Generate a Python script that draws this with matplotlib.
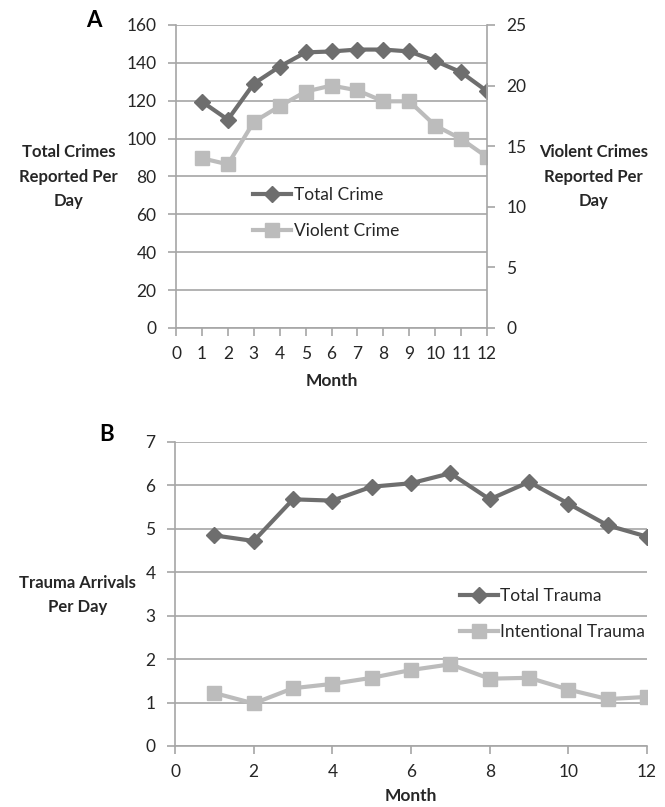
import matplotlib.pyplot as plt

# data
months = [1, 2, 3, 4, 5, 6, 7, 8, 9, 10, 11, 12]
total_crime = [119.5, 110, 129, 138, 145.5, 146, 147, 147, 146, 141, 135, 125]
violent_crime = [14.0, 13.5, 17.0, 18.3, 19.5, 20.0, 19.6, 18.7, 18.7, 16.7, 15.6, 14.1]
total_trauma = [4.85, 4.72, 5.68, 5.65, 5.97, 6.05, 6.28, 5.68, 6.08, 5.58, 5.08, 4.82]
intentional_trauma = [1.22, 0.98, 1.33, 1.43, 1.57, 1.75, 1.88, 1.55, 1.57, 1.30, 1.08, 1.13]

DARK = '#6e6e6e'
LIGHT = '#bcbcbc'
GRID = '#a6a6a6'
TXT = '#262626'

plt.rcParams['font.family'] = ['Lato', 'DejaVu Sans']
plt.rcParams['font.size'] = 12

fig = plt.figure(figsize=(6.65, 8.07), dpi=100)


def style_axes(ax):
    ax.grid(axis='y', color=GRID, linewidth=1.2)
    ax.set_axisbelow(True)
    for s in ['top', 'right']:
        ax.spines[s].set_visible(False)
    for s in ['left', 'bottom']:
        ax.spines[s].set_color(GRID)
        ax.spines[s].set_linewidth(1.2)
    ax.tick_params(color=GRID, labelcolor=TXT, length=6, width=1.2, labelsize=12.5)
    ax.tick_params(axis='y', pad=8)
    ax.tick_params(axis='x', pad=7)


# panel A
ax1 = fig.add_axes([0.2647, 0.5936, 0.4677, 0.3755])
style_axes(ax1)
ax1.plot(months, total_crime, color=DARK, lw=3, marker='D', ms=8.5, label='Total Crime')
ax1.set_xlim(0, 12)
ax1.set_ylim(0, 160)
ax1.set_xticks(range(0, 13))
ax1.set_yticks(range(0, 161, 20))
ax1.set_xlabel('Month', fontweight='bold', fontsize=12.5, color=TXT, labelpad=8)

ax2 = ax1.twinx()
ax2.plot(months, violent_crime, color=LIGHT, lw=3, marker='s', ms=9.5, label='Violent Crime')
ax2.set_ylim(0, 25)
ax2.set_yticks(range(0, 26, 5))
for s in ['top', 'left', 'bottom']:
    ax2.spines[s].set_visible(False)
ax2.spines['right'].set_color(GRID)
ax2.spines['right'].set_linewidth(1.2)
ax2.tick_params(color=GRID, labelcolor=TXT, length=6, width=1.2, labelsize=12.5, pad=8)

h1, l1 = ax1.get_legend_handles_labels()
h2, l2 = ax2.get_legend_handles_labels()
ax1.legend(h1 + h2, l1 + l2, loc='center left', bbox_to_anchor=(0.2476, 0.378),
           frameon=False, fontsize=12.5, handlelength=2.2, handletextpad=0.15,
           labelspacing=1.15, labelcolor=TXT, borderpad=0, borderaxespad=0)

fig.text(0.103, 0.781, 'Total Crimes\nReported Per\nDay', ha='center', va='center',
         fontweight='bold', fontsize=12, color=TXT, linespacing=1.65)
fig.text(0.893, 0.781, 'Violent Crimes\nReported Per\nDay', ha='center', va='center',
         fontweight='bold', fontsize=12, color=TXT, linespacing=1.65)
fig.text(0.141, 0.975, 'A', ha='center', va='center', fontweight='bold', fontsize=16, color='black')

# panel B
ax3 = fig.add_axes([0.2632, 0.0756, 0.7098, 0.3767])
style_axes(ax3)
ax3.plot(months, total_trauma, color=DARK, lw=3, marker='D', ms=8.5, label='Total Trauma')
ax3.plot(months, intentional_trauma, color=LIGHT, lw=3, marker='s', ms=9.5, label='Intentional Trauma')
ax3.set_xlim(0, 12)
ax3.set_ylim(0, 7)
ax3.set_xticks(range(0, 13, 2))
ax3.set_yticks(range(0, 8))
ax3.set_xlabel('Month', fontweight='bold', fontsize=12.5, color=TXT, labelpad=6)
ax3.legend(loc='center left', bbox_to_anchor=(0.603, 0.435), frameon=False, fontsize=12.5,
           handlelength=2.2, handletextpad=0.15, labelspacing=1.15, labelcolor=TXT,
           borderpad=0, borderaxespad=0)

fig.text(0.116, 0.263, 'Trauma Arrivals\nPer Day', ha='center', va='center',
         fontweight='bold', fontsize=12, color=TXT, linespacing=1.65)
fig.text(0.160, 0.462, 'B', ha='center', va='center', fontweight='bold', fontsize=16, color='black')

fig.savefig('out.png', dpi=100, facecolor='white')
